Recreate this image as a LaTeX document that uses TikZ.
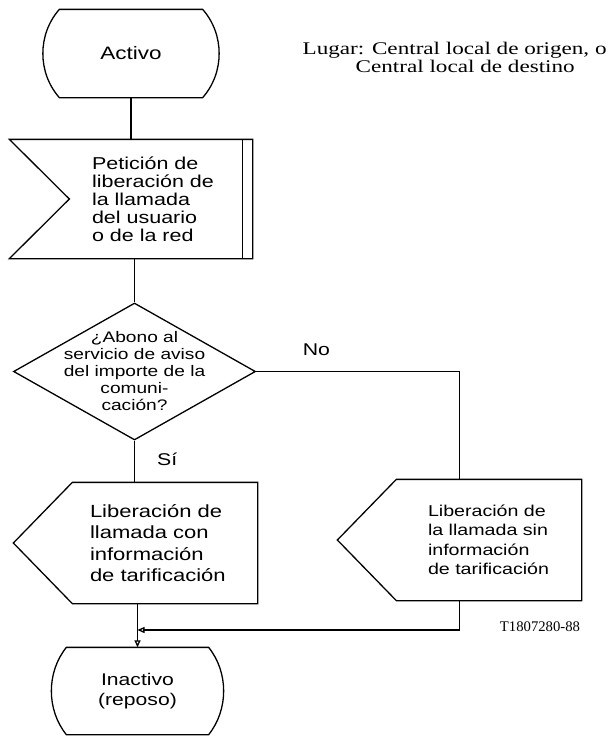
\documentclass[tikz,border=0pt]{standalone}
\usepackage{fontspec}
\newfontfamily\flowfont[FakeStretch=1.25]{Liberation Sans}  % texte des blocs
\newfontfamily\notefont[FakeStretch=1.3]{Liberation Serif}  % note en haut a droite
\newfontfamily\codefont{Liberation Serif}                   % reference de la figure
\usetikzlibrary{shapes.geometric,     % losange
           arrows.meta,               % pointes de fleches
           positioning,
           calc}                      % Calculs de coordonnées entre $ $
\tikzset{
  zone/.style 2 args={rectangle,inner sep=0pt,minimum width=#1,minimum height=#2},
  txt/.style 2 args={inner sep=0pt,align=left,font=\flowfont\fontsize{#1}{#2}\selectfont},
  fl/.style={-{Triangle[open,length=7pt,width=6pt]}},
  note/.style={inner sep=0pt,anchor=base west,font=\notefont\fontsize{17.8}{20}\selectfont}
}

\begin{document}
\begin{tikzpicture}[x=1pt,y=-1pt,line width=1.3pt]
\useasboundingbox (0,0) rectangle (611,736);
\node[zone={142}{87},txt={18}{20}] (act) at (131,53.5) {Activo};
\draw (act.north west) -- (act.north east) .. controls +(22,25) and +(22,-25) .. (act.south east) -- (act.south west) .. controls +(-22,-25) and +(-22,25) .. (act.north west) -- cycle;
\node[note] (lug1) at (302,54) {Lugar: Central local de origen, o};
\node[note] (lug2) at (355,72.7) {Central local de destino};
\node[zone={242}{118}] (pet) at (131,199) {};
\draw (pet.north west) -- (pet.north east) -- (pet.south east) -- (pet.south west) -- ($(pet.west)+(60,0)$) -- cycle;
\draw ([xshift=-10pt]pet.north east) -- ([xshift=-10pt]pet.south east);
\node[txt={17.2}{18},right=82pt of pet.west] (pett) {Petición de\\liberación de\\la llamada\\del usuario\\o de la red};
\node[diamond,draw,minimum width=242,minimum height=137,inner sep=0pt] (dec) at (134.5,371.5) {};
\node[txt={15.3}{17},align=center] (dect) at (dec.center) {¿Abono al\\servicio de aviso\\del importe de la\\comuni-\\cación?};
\node[zone={243}{120}] (lcon) at (135.5,543) {};
\draw (lcon.north east) -- (lcon.south east) -- ($(lcon.south west)+(59,0)$) -- (lcon.west) -- ($(lcon.north west)+(59,0)$) -- cycle;
\node[txt={17.6}{21.5},right=76pt of lcon.west] (lcont) {Liberación de\\llamada con\\información\\de tarificación};
\node[zone={243}{120}] (lsin) at (459.5,540) {};
\draw (lsin.north east) -- (lsin.south east) -- ($(lsin.south west)+(59,0)$) -- (lsin.west) -- ($(lsin.north west)+(59,0)$) -- cycle;
\node[txt={15.7}{19.5},right=90pt of lsin.west] (lsint) {Liberación de\\la llamada sin\\información\\de tarificación};
\node[zone={141}{86},txt={16.9}{20},align=center] (inact) at (137.5,691) {Inactivo\\(reposo)};
\draw (inact.north west) -- (inact.north east) .. controls +(20,25) and +(20,-25) .. (inact.south east) -- (inact.south west) .. controls +(-20,-25) and +(-20,25) .. (inact.north west) -- cycle;
\draw (act.south) -- (pet.north);
\draw (pet.south -| dec.north) -- (dec.north);
\draw (dec.south) -- (dec.south |- lcon.north);
\draw (dec.east) -| (lsin.north);
\coordinate (mrg) at (137.5,630);
\draw[fl] (lsin.south) |- (mrg);
\draw[fl] (lcon.south -| inact.north) -- (inact.north);
\node[txt={17}{18},above right=15pt and 46pt of dec.east] (no) {No};
\node[txt={17}{18},below right=12pt and 22pt of dec.south] (si) {Sí};
\node[font=\codefont\fontsize{14.7}{16}\selectfont,inner sep=0pt] (code) at (540,627) {T1807280-88};
\end{tikzpicture}
\end{document}
